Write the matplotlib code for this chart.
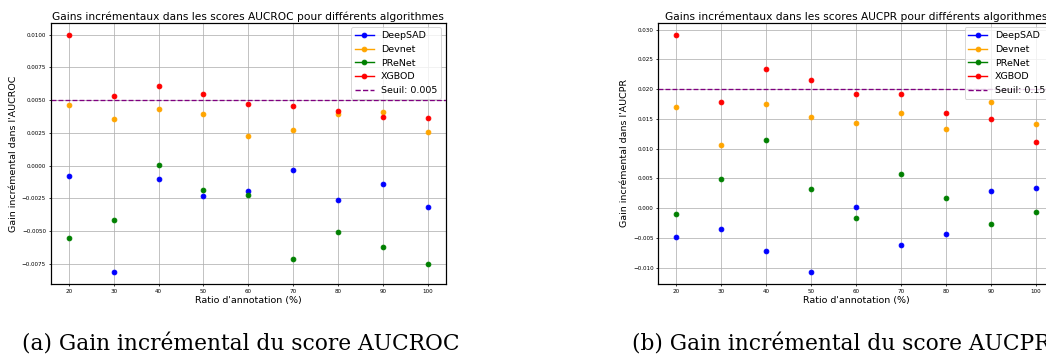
import numpy as np
import matplotlib
matplotlib.use("Agg")
import matplotlib.pyplot as plt
from matplotlib.lines import Line2D


ratios = [20, 30, 40, 50, 60, 70, 80, 90, 100]
algos = ["DeepSAD", "Devnet", "PReNet", "XGBOD"]
colors = ["blue", "orange", "green", "red"]

# gains AUCROC par algorithme
roc_deepsad = [-0.0008, -0.00814, -0.0010, -0.00232, -0.00194, -0.00036, -0.00265, -0.00143, -0.00316]
roc_devnet = [0.00459, 0.00355, 0.00431, 0.00393, 0.00228, 0.00274, 0.00395, 0.00411, 0.00258]
roc_prenet = [-0.00557, -0.00417, 0.00004, -0.00184, -0.00224, -0.00717, -0.00511, -0.00623, -0.00753]
roc_xgbod = [0.0100, 0.00533, 0.00609, 0.0055, 0.00467, 0.00456, 0.00416, 0.00373, 0.0036]
roc_seuil = 0.005

# gains AUCPR par algorithme
pr_deepsad = [-0.00476, -0.00353, -0.00721, -0.01073, 0.00015, -0.00615, -0.00425, 0.00294, 0.00333]
pr_devnet = [0.01695, 0.0107, 0.01745, 0.01533, 0.01438, 0.016, 0.01326, 0.01778, 0.01416]
pr_prenet = [-0.00091, 0.0049, 0.01148, 0.00328, -0.00163, 0.00568, 0.00172, -0.00269, -0.00063]
pr_xgbod = [0.02916, 0.01789, 0.02336, 0.02152, 0.01923, 0.01923, 0.01605, 0.01499, 0.01109]
pr_seuil = 0.020


def plot_gains(ax, series, seuil, seuil_label, metric):
	for name, vals, c in zip(algos, series, colors):
		ax.plot(ratios, vals, "o", color=c, markersize=5)
	ax.axhline(seuil, color="purple", linestyle="--", linewidth=1.4)
	handles = [Line2D([0], [0], color=c, marker="o", markersize=5) for c in colors]
	handles.append(Line2D([0], [0], color="purple", linestyle="--"))
	ax.legend(handles, algos + [seuil_label], loc="upper right", fontsize=10)
	ax.set_title(f"Gains incrémentaux dans les scores {metric} pour différents algorithmes", fontsize=11.2, pad=3)
	ax.set_xlabel("Ratio d'annotation (%)", fontsize=10, labelpad=2)
	ax.set_ylabel(f"Gain incrémental dans l'{metric}", fontsize=10)
	ax.set_xticks(ratios)
	ax.tick_params(labelsize=6, length=2.5, pad=2.5)
	ax.grid(True)
	for sp in ax.spines.values():
		sp.set_linewidth(1.3)


W, H, DPI = 1046, 360, 68
fig = plt.figure(figsize=(W / DPI, H / DPI), dpi=DPI)

ax1 = fig.add_axes([50.7 / W, 76 / H, 395.3 / W, 261.3 / H])
ax2 = fig.add_axes([658.3 / W, 76 / H, 395.3 / W, 261.3 / H])

plot_gains(ax1, [roc_deepsad, roc_devnet, roc_prenet, roc_xgbod], roc_seuil, "Seuil: 0.005", "AUCROC")
plot_gains(ax2, [pr_deepsad, pr_devnet, pr_prenet, pr_xgbod], pr_seuil, "Seuil: 0.15", "AUCPR")

fig.text(22 / W, 1 - 345 / H, "(a) Gain incrémental du score AUCROC", family="DejaVu Serif", fontsize=23, va="center")
fig.text(632 / W, 1 - 345 / H, "(b) Gain incrémental du score AUCPR", family="DejaVu Serif", fontsize=23, va="center")

fig.savefig("out.png", dpi=DPI)
